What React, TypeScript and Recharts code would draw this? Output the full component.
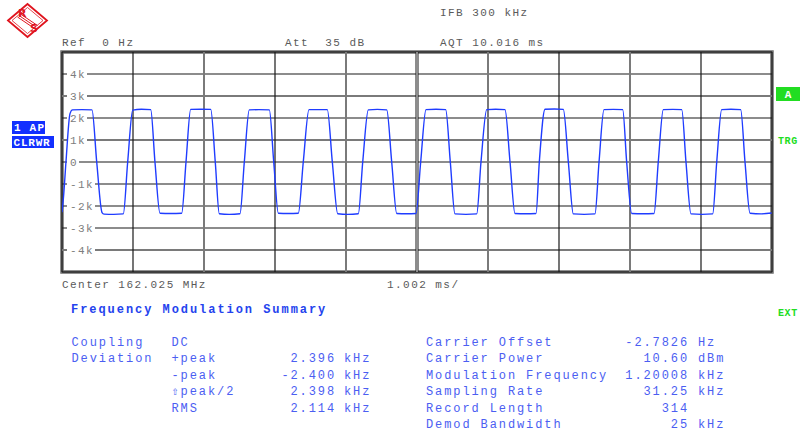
import { LineChart, Line, XAxis, YAxis, ReferenceLine, ReferenceArea } from 'recharts';

// FM demod trace: [time ms, deviation kHz]
const fmTrace: [number, number][] = [
  [0, -2.28], [0.021, -1.6], [0.056, 0.0], [0.113, 2.2], [0.148, 2.37], [0.28, 2.38], [0.423, 2.37],
  [0.49, 0], [0.565, -2.3], [0.593, -2.37], [0.73, -2.38], [0.865, -2.36],
  [0.927, 0], [0.998, 2.36], [1.12, 2.4], [1.252, 2.38],
  [1.312, 0], [1.383, -2.33], [1.53, -2.34], [1.689, -2.33],
  [1.75, 0], [1.816, 2.39], [1.96, 2.4], [2.099, 2.39],
  [2.163, 0], [2.22, -2.35], [2.36, -2.38], [2.512, -2.35],
  [2.573, 0], [2.643, 2.37], [2.78, 2.38], [2.926, 2.37],
  [2.988, 0], [3.053, -2.33], [3.19, -2.34], [3.335, -2.33],
  [3.405, 0], [3.486, 2.38], [3.61, 2.38], [3.744, 2.38],
  [3.815, 0], [3.891, -2.35], [4.03, -2.38], [4.182, -2.35],
  [4.244, 0], [4.323, 2.37], [4.45, 2.39], [4.583, 2.37],
  [4.653, 0], [4.724, -2.34], [4.86, -2.35], [4.996, -2.34],
  [5.062, 0], [5.137, 2.38], [5.28, 2.4], [5.415, 2.38],
  [5.48, 0], [5.546, -2.36], [5.7, -2.38], [5.853, -2.36],
  [5.913, 0], [5.994, 2.38], [6.12, 2.4], [6.252, 2.38],
  [6.323, 0], [6.393, -2.34], [6.54, -2.35], [6.69, -2.34],
  [6.736, 0], [6.817, 2.4], [6.95, 2.41], [7.075, 2.39],
  [7.146, 0], [7.216, -2.36], [7.37, -2.38], [7.522, -2.36],
  [7.579, 0], [7.649, 2.38], [7.78, 2.39], [7.913, 2.38],
  [7.969, 0], [8.04, -2.34], [8.2, -2.35], [8.355, -2.34],
  [8.415, 0], [8.486, 2.38], [8.62, 2.39], [8.746, 2.38],
  [8.806, 0], [8.877, -2.36], [9.03, -2.38], [9.183, -2.36],
  [9.24, 0], [9.31, 2.38], [9.44, 2.4], [9.578, 2.38],
  [9.639, 0], [9.71, -2.33], [9.87, -2.36], [10.016, -2.32],
];

const sweepMs = [0, 10.02];
const spanKHz = [-5, 5];
const divisionMs = [1.002, 2.004, 3.006, 4.008, 5.01, 6.012, 7.014, 8.016, 9.018];
const gridKHz = [4, 3, 2, 1, 0, -1, -2, -3, -4];
const gridLabels = ['4k', '3k', '2k', '1k', '0', '-1k', '-2k', '-3k', '-4k'];

const deviationNames = ['+peak', '-peak', '\u21e7peak/2', 'RMS'];
const deviationValues = ['2.396', '-2.400', '2.398', '2.114'];
const resultNames = ['Carrier Offset', 'Carrier Power', 'Modulation Frequency', 'Sampling Rate', 'Record Length', 'Demod Bandwidth'];
const resultValues = ['-2.7826', '10.60', '1.20008', '31.25', '314', '25'];
const resultUnits = ['Hz', 'dBm', 'kHz', 'kHz', '', 'kHz'];

const MONO = '"Liberation Mono", "Courier New", monospace';
const GREY_TXT = '#5a5a5a';
const BLUE_TXT = '#4b5ef2';
const GREEN = '#22dd22';
const RS_RED = '#e0141e';

// the screen's gridlines alternate between thin black and thicker grey
const hTone = ['k', 'g', 'k', 'g', 'k', 'k', 'k', 'k', 'g'];
const vTone = ['k', 'g', 'k', 'g', 'd', 'g', 'k', 'g', 'k'];

function GridLabel({ viewBox, text }: any) {
  if (!viewBox) return null;
  const x = viewBox.x + 5;
  const y = viewBox.y;
  return (
    <g>
      <rect x={x} y={y - 6} width={text.length * 8 + 4} height={12} fill="#fff" />
      <text x={x + 3} y={y + 4} fill="#7d7d7d" fontSize={11} fontFamily={MONO} letterSpacing={1.4}>
        {text}
      </text>
    </g>
  );
}

const txt = (x: number, y: number, s: string, opts: any = {}) => (
  <text
    key={`${x}-${y}-${s}`}
    x={x}
    y={y}
    fill={opts.fill ?? GREY_TXT}
    fontSize={opts.size ?? 11}
    fontFamily={MONO}
    fontWeight={opts.bold ? 'bold' : 'normal'}
    letterSpacing={opts.ls ?? 1.45}
    textAnchor={opts.anchor ?? 'start'}
    style={{ whiteSpace: 'pre' }}
  >
    {s}
  </text>
);

export default function App() {
  const data = fmTrace.map(([t, v]) => ({ t, v }));
  const rowY = (i: number) => 345.5 + i * 16.5;
  const blue = { fill: BLUE_TXT, size: 12, ls: 1.9 };

  return (
    <div style={{ position: 'absolute', left: 0, top: 0, width: 800, height: 434, background: '#fff', overflow: 'hidden' }}>
      <LineChart width={800} height={434} data={data} margin={{ top: 52, right: 28, bottom: 162, left: 62 }}>
        <XAxis type="number" dataKey="t" domain={sweepMs} hide allowDataOverflow />
        <YAxis type="number" domain={spanKHz} hide allowDataOverflow />
        {gridKHz.map((k, i) => (
          <ReferenceLine
            key={`h${k}`}
            y={k}
            stroke={hTone[i] === 'g' ? '#7a7a7a' : '#1a1a1a'}
            strokeWidth={hTone[i] === 'g' ? 2 : 1.2}
            label={<GridLabel text={gridLabels[i]} />}
          />
        ))}
        {divisionMs.map((d, i) => (
          <ReferenceLine
            key={`v${d}`}
            x={d}
            stroke={vTone[i] === 'g' ? '#7a7a7a' : '#1a1a1a'}
            strokeWidth={vTone[i] === 'g' ? 2 : vTone[i] === 'd' ? 3 : 1.2}
          />
        ))}
        <ReferenceLine x={divisionMs[4]} stroke="#fff" strokeWidth={1} />
        <ReferenceArea x1={sweepMs[0]} x2={sweepMs[1]} y1={spanKHz[0]} y2={spanKHz[1]} fill="none" stroke="#6e6e6e" strokeWidth={3.5} />
        <ReferenceArea x1={sweepMs[0]} x2={sweepMs[1]} y1={spanKHz[0]} y2={spanKHz[1]} fill="none" stroke="#111" strokeWidth={1} />
        <Line
          type="monotone"
          dataKey="v"
          stroke="#1f3cff"
          strokeWidth={1.4}
          dot={false}
          isAnimationActive={false}
          zIndex={3000}
        />
      </LineChart>

      <svg width={800} height={434} style={{ position: 'absolute', left: 0, top: 0, pointerEvents: 'none' }}>
        {/* R&S logo */}
        <polygon points="8,20.5 27.5,4 47,20.5 27.5,37" stroke={RS_RED} strokeWidth={1.8} fill="#fff" />
        <polygon points="12,20.5 27.5,7.5 43,20.5 27.5,33.5" stroke={RS_RED} strokeWidth={0.8} fill="none" />
        <g stroke={RS_RED} strokeWidth={1}>
          <line x1={19} y1={15.5} x2={36} y2={27} />
          <line x1={20.5} y1={14} x2={37.5} y2={25.5} />
          <line x1={17.5} y1={17} x2={34.5} y2={28.5} />
        </g>
        <text x={18} y={17} fill={RS_RED} fontSize={11} fontFamily="DejaVu Sans" fontWeight="bold">R</text>
        <text x={30} y={32} fill={RS_RED} fontSize={11} fontFamily="DejaVu Sans" fontWeight="bold">S</text>

        {txt(440, 16, 'IFB 300 kHz')}
        {txt(62, 46, 'Ref  0 Hz')}
        {txt(285, 46, 'Att  35 dB')}
        {txt(440, 46, 'AQT 10.016 ms')}
        {txt(62, 288, 'Center 162.025 MHz')}
        {txt(387, 288, '1.002 ms/')}

        {/* trace / trigger badges */}
        <rect x={12} y={121} width={33} height={13} fill="#1230ff" />
        {txt(14, 131, '1 AP', { fill: '#fff', bold: true, size: 11, ls: 1.2 })}
        <rect x={12} y={136} width={42} height={12} fill="#1230ff" />
        {txt(13.5, 146, 'CLRWR', { fill: '#fff', bold: true, size: 11, ls: 0.8 })}
        <rect x={776} y={87} width={24} height={14} fill={GREEN} />
        {txt(788, 98, 'A', { fill: '#fff', bold: true, size: 11, anchor: 'middle', ls: 0 })}
        {txt(778, 144, 'TRG', { fill: GREEN, bold: true, size: 10, ls: 0.6 })}
        {txt(778, 316, 'EXT', { fill: GREEN, bold: true, size: 10, ls: 0.6 })}

        {/* demod summary */}
        {txt(71, 313, 'Frequency Modulation Summary', { fill: '#2443ee', bold: true, size: 12, ls: 1.95 })}
        {txt(71.5, rowY(0), 'Coupling', blue)}
        {txt(171.5, rowY(0), 'DC', blue)}
        {txt(71.5, rowY(1), 'Deviation', blue)}
        {deviationNames.map((n, i) => txt(171.5, rowY(i + 1), n, blue))}
        {deviationValues.map((v, i) => txt(336, rowY(i + 1), v, { ...blue, anchor: 'end' }))}
        {deviationValues.map((_, i) => txt(344, rowY(i + 1), 'kHz', blue))}
        {resultNames.map((n, i) => txt(426, rowY(i), n, blue))}
        {resultValues.map((v, i) => txt(689, rowY(i), v, { ...blue, anchor: 'end' }))}
        {resultUnits.map((u, i) => (u ? txt(698, rowY(i), u, blue) : null))}
      </svg>
    </div>
  );
}
